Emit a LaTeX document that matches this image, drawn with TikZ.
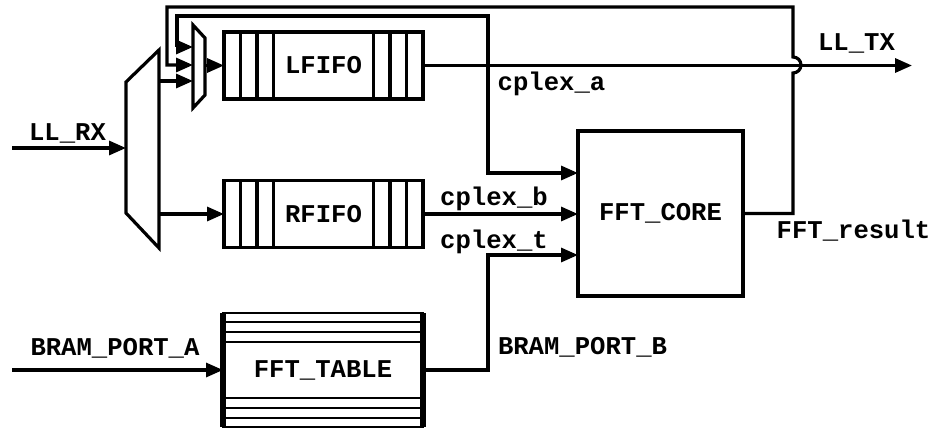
\documentclass[tikz,border=0pt]{standalone}
\usepackage{fontspec}
\setmonofont{Liberation Mono}
\usetikzlibrary{arrows.meta,calc}

\begin{document}
\begin{tikzpicture}[
  x=0.5pt, y=-0.5pt,
  line width=1.6pt,
  every node/.style={font=\ttfamily\bfseries\fontsize{12.8}{15}\selectfont},
  block/.style={draw, inner sep=0pt, outer sep=0pt},
  fifo/.style={block, minimum width=99.5pt, minimum height=33.5pt,
    path picture={\foreach \d in {8.25,16.5,24.75}{
      \draw ([xshift=\d pt]path picture bounding box.south west) -- ([xshift=\d pt]path picture bounding box.north west);
      \draw ([xshift=-\d pt]path picture bounding box.south east) -- ([xshift=-\d pt]path picture bounding box.north east);}}},
  table/.style={block, line width=0.9pt, minimum width=100pt, minimum height=57pt,
    path picture={\foreach \d in {4.5,9.5,14.5}{
      \draw ([yshift=-\d pt]path picture bounding box.north west) -- ([yshift=-\d pt]path picture bounding box.north east);
      \draw ([yshift=\d pt]path picture bounding box.south west) -- ([yshift=\d pt]path picture bounding box.south east);}}},
  arrow/.style={-{Triangle[length=8.5pt, width=7pt]}},
  lbl/.style={anchor=base},
]
\useasboundingbox (0,0) rectangle (935,428);

% Blocks
\node[fifo] (lfifo) at (323.5,65.5) {LFIFO};
\node[fifo] (rfifo) at (323.5,214) {RFIFO};
\node[table] (table) at (323,370) {FFT\_TABLE};
\node[block, minimum width=82.5pt, minimum height=82.5pt] (core) at (660.5,213.5) {FFT\_CORE};
\draw[line width=3pt] (table.north west) -- (table.south west);
\draw[line width=3pt] (table.north east) -- (table.south east);

% Demux and mux
\draw (126,82) -- (159,50) -- (159,248) -- (126,213) -- cycle;
\coordinate (dmx in) at (126,148);
\coordinate (dmx o1) at (159,81);
\coordinate (dmx o2) at (159,214);
\draw (193,25) -- (205,38) -- (205,95) -- (193,108) -- cycle;
\coordinate (mux i1) at (193,47);
\coordinate (mux i2) at (193,65);
\coordinate (mux i3) at (193,81);
\coordinate (mux out) at (205,65.5);

% Ports
\coordinate (rx) at (12,148);
\coordinate (pa) at (12,370);
\coordinate (tx) at (912,65.5);
\coordinate (ca) at (488,65.5);

% Arrows
\draw[arrow] (rx) -- (dmx in);
\draw[arrow] (dmx o1) -- (mux i3);
\draw[arrow] (dmx o2) -- (rfifo.west);
\draw[arrow] (mux out) -- (lfifo.west);
\draw[arrow] (lfifo.east) -- (tx);
\draw[arrow] (ca) |- (177,16) |- (mux i1);
\draw[arrow] (ca) |- (core.west |- 0,173);
\draw[arrow] (rfifo.east) -- (core.west |- rfifo.east);
\draw[arrow] (pa) -- (table.west);
\draw[arrow] (table.east) -| (488,255) -- (core.west |- 0,255);
\draw[arrow] (core.east) -- (793,213.5) -- (793,73) arc[start angle=-90, end angle=90, radius=4pt] -- (793,7) -| (167,65) -- (mux i2);

% Labels
\node[lbl] (l rx) at (67.5,140) {LL\_RX};
\node[lbl] (l pa) at (115,355) {BRAM\_PORT\_A};
\node[lbl] (l pb) at (582.5,354) {BRAM\_PORT\_B};
\node[lbl] (l ca) at (551.5,90) {cplex\_a};
\node[lbl] (l cb) at (494,205) {cplex\_b};
\node[lbl] (l ct) at (494,248) {cplex\_t};
\node[lbl] (l tx) at (856.5,50) {LL\_TX};
\node[lbl] (l res) at (853.5,238) {FFT\_result};

\end{tikzpicture}
\end{document}
